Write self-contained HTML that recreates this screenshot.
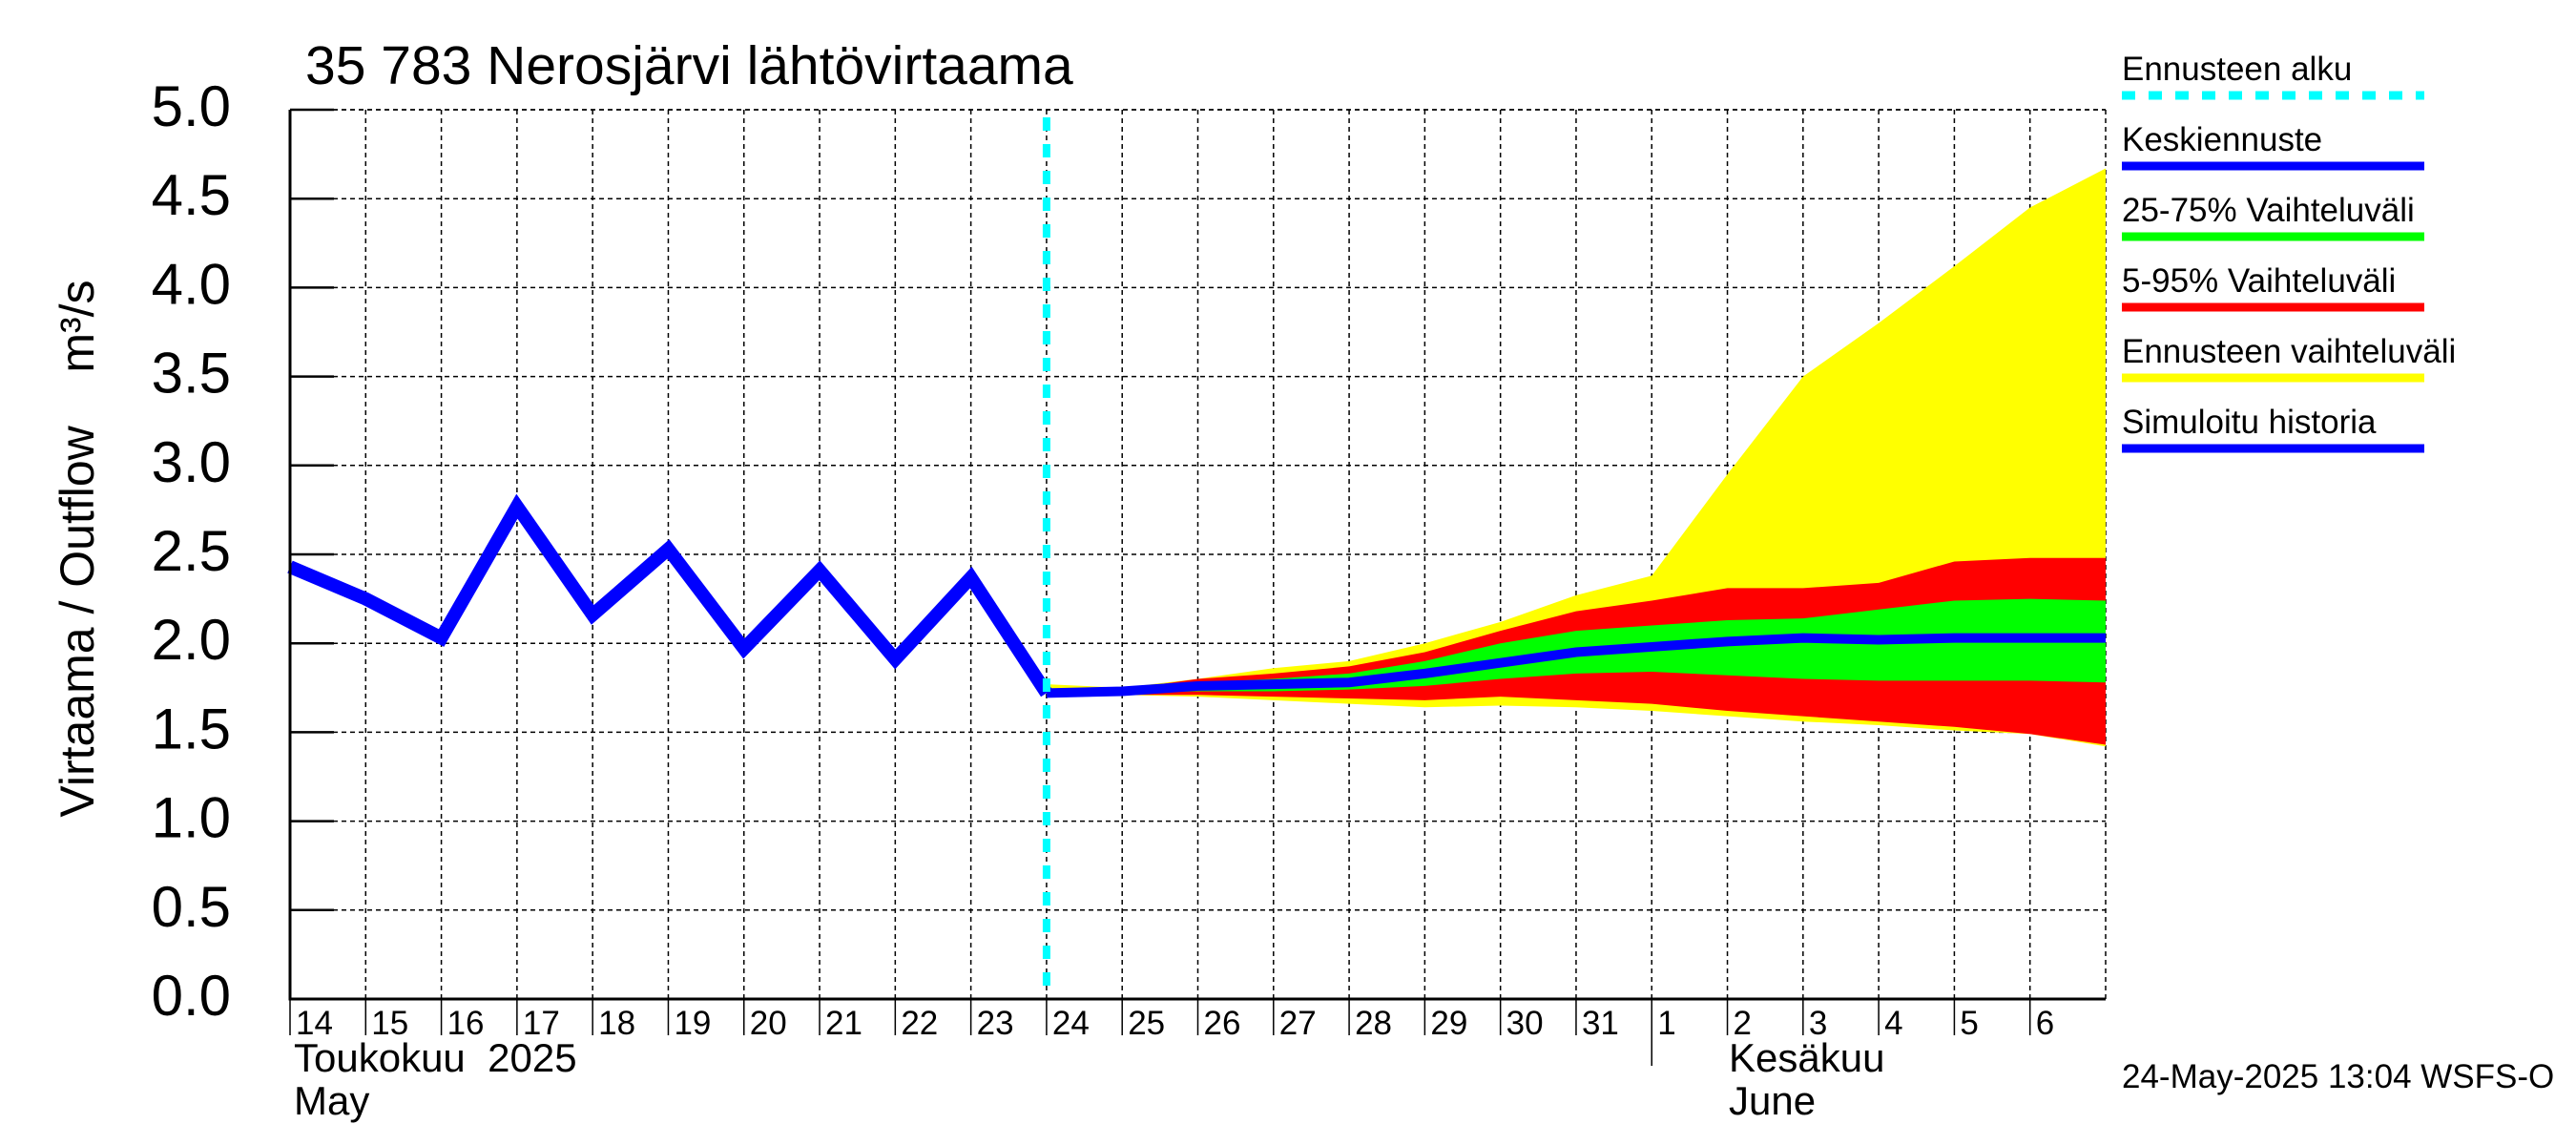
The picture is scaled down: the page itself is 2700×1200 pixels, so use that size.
<!DOCTYPE html>
<html><head><meta charset="utf-8"><style>
body{margin:0;background:#fff}
svg{display:block;font-family:"Liberation Sans",sans-serif}
</style></head><body>
<svg id="c" width="2700" height="1200" viewBox="0 0 2700 1200" xmlns="http://www.w3.org/2000/svg">
<text x="320" y="88" font-size="57">35 783 Nerosjärvi lähtövirtaama</text>
<text transform="translate(98,575) rotate(-90)" text-anchor="middle" font-size="50" style="white-space:pre">Virtaama / Outflow    m³/s</text>
<g id="grid"></g>
<g id="bands"></g>
<g id="lines"></g>
<g id="axes"></g>
<g font-size="35">
<text x="2224" y="84">Ennusteen alku</text>
<line x1="2224" y1="100" x2="2541" y2="100" stroke="#00ffff" stroke-width="9" stroke-dasharray="14,14"/>
<text x="2224" y="158">Keskiennuste</text>
<line x1="2224" y1="174" x2="2541" y2="174" stroke="#0000ff" stroke-width="9"/>
<text x="2224" y="232">25-75% Vaihteluväli</text>
<line x1="2224" y1="248" x2="2541" y2="248" stroke="#00ff00" stroke-width="9"/>
<text x="2224" y="306">5-95% Vaihteluväli</text>
<line x1="2224" y1="322" x2="2541" y2="322" stroke="#ff0000" stroke-width="9"/>
<text x="2224" y="380">Ennusteen vaihteluväli</text>
<line x1="2224" y1="396" x2="2541" y2="396" stroke="#ffff00" stroke-width="9"/>
<text x="2224" y="454">Simuloitu historia</text>
<line x1="2224" y1="470" x2="2541" y2="470" stroke="#0000ff" stroke-width="9"/>
</g>
<text x="2224" y="1140" font-size="35">24-May-2025 13:04 WSFS-O</text>
<text x="308" y="1123" font-size="42" style="white-space:pre">Toukokuu  2025</text>
<text x="308" y="1168" font-size="42">May</text>
<text x="1812" y="1123" font-size="42">Kesäkuu</text>
<text x="1812" y="1168" font-size="42">June</text>
</svg>
<script>
const dayLabels=["14","15","16","17","18","19","20","21","22","23","24","25","26","27","28","29","30","31","1","2","3","4","5","6"];
const yTicks=[0,0.5,1,1.5,2,2.5,3,3.5,4,4.5,5];
const histDays=[0,1,2,3,4,5,6,7,8,9,10];
const histValues=[2.43,2.25,2.03,2.77,2.16,2.53,1.97,2.41,1.91,2.37,1.72];
const fcDays=[10,11,12,13,14,15,16,17,18,19,20,21,22,23,24];
const yellowHi=[1.77,1.75,1.80,1.86,1.90,2.00,2.12,2.27,2.38,2.95,3.50,3.80,4.12,4.45,4.67];
const redHi=[1.73,1.74,1.80,1.83,1.87,1.95,2.07,2.18,2.24,2.31,2.31,2.34,2.46,2.48,2.48];
const greenHi=[1.72,1.73,1.78,1.80,1.83,1.90,2.00,2.07,2.10,2.13,2.14,2.19,2.24,2.25,2.24];
const median=[1.72,1.73,1.76,1.77,1.78,1.83,1.89,1.95,1.98,2.01,2.03,2.02,2.03,2.03,2.03];
const greenLo=[1.72,1.72,1.73,1.73,1.74,1.76,1.80,1.83,1.84,1.82,1.80,1.79,1.79,1.79,1.78];
const redLo=[1.72,1.71,1.71,1.70,1.69,1.68,1.70,1.68,1.66,1.62,1.59,1.56,1.53,1.49,1.43];
const yellowLo=[1.72,1.71,1.70,1.68,1.66,1.64,1.65,1.64,1.62,1.59,1.56,1.54,1.51,1.49,1.42];
const forecastStartDay=10;

const L=304,R=2207,T=115,B=1047,ND=24;
const x=d=>L+(R-L)*d/ND;
const y=v=>B-(B-T)*v/5;
const NS="http://www.w3.org/2000/svg";
function mk(tag,parent,attrs){const e=document.createElementNS(NS,tag);for(const k in attrs)e.setAttribute(k,attrs[k]);parent.appendChild(e);return e;}
const grid=document.getElementById('grid'),bands=document.getElementById('bands'),lines=document.getElementById('lines'),axes=document.getElementById('axes');

yTicks.forEach(v=>{
 const g=mk('line',grid,{x1:L,x2:R,y1:y(v),y2:y(v),stroke:'#000','stroke-width':1.5,'stroke-dasharray':'5,4'});
 
 
 const t=mk('line',axes,{x1:L,x2:L+46,y1:y(v),y2:y(v),stroke:'#000','stroke-width':2.5});
 
 
 const lb=mk('text',axes,{x:242,y:y(v)+17,'text-anchor':'end','font-size':60});
 lb.textContent=v.toFixed(1);
 
 
});
for(let d=1;d<=ND;d++){
 const g=mk('line',grid,{x1:x(d),x2:x(d),y1:T,y2:B,stroke:'#000','stroke-width':1.5,'stroke-dasharray':'5,4'});
 
 
}
dayLabels.forEach((s,i)=>{
 const long=(dayLabels[i]==="1");
 const tk=mk('line',axes,{x1:x(i),x2:x(i),y1:B,y2:long?1117:1085,stroke:'#000','stroke-width':1.5});
 
 
 const t=mk('text',axes,{x:x(i)+6,y:1084,'font-size':35});
 t.textContent=s;
 
 
});

function band(hi,lo,color,name){
 let p=fcDays.map((d,i)=>x(d)+','+y(hi[i]));
 p=p.concat(fcDays.map((d,i)=>x(d)+','+y(lo[i])).reverse());
 const e=mk('polygon',bands,{points:p.join(' '),fill:color});
 
 
}
band(yellowHi,yellowLo,'#ffff00','band-full-range');
band(redHi,redLo,'#ff0000','band-5-95');
band(greenHi,greenLo,'#00ff00','band-25-75');

const hl=mk('polyline',lines,{points:histDays.map((d,i)=>x(d)+','+y(histValues[i])).join(' '),fill:'none',stroke:'#0000ff','stroke-width':14,'stroke-linejoin':'miter'});


const ml=mk('polyline',lines,{points:fcDays.map((d,i)=>x(d)+','+y(median[i])).join(' '),fill:'none',stroke:'#0000ff','stroke-width':10});


const fs=mk('line',lines,{x1:x(forecastStartDay),x2:x(forecastStartDay),y1:T+8,y2:B,stroke:'#00ffff','stroke-width':8,'stroke-dasharray':'14,14'});



const ax=mk('path',axes,{d:`M${L},${T} L${L},${B} L${R},${B}`,fill:'none',stroke:'#000','stroke-width':3});


const tb=mk('line',axes,{x1:L,x2:R,y1:T,y2:T,stroke:'#000','stroke-width':1.5,'stroke-dasharray':'5,4'});


</script>
</body></html>
